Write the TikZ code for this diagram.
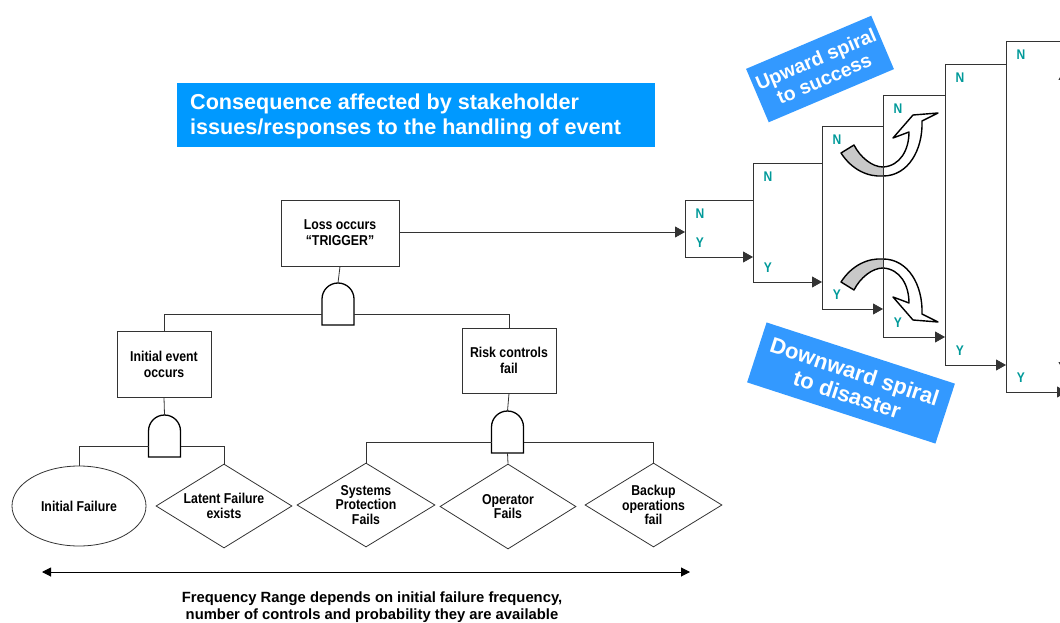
\documentclass[tikz,border=0pt]{standalone}
\usepackage{fontspec}
\setmainfont{Liberation Sans}
\newfontfamily\condfont[FakeStretch=0.86]{Liberation Sans}
\usetikzlibrary{arrows.meta,shapes.geometric}
\definecolor{headblue}{RGB}{0,153,255}
\definecolor{spiralblue}{RGB}{51,153,255}
\definecolor{branchteal}{RGB}{0,153,153}
\definecolor{backgray}{RGB}{200,200,200}

\tikzset{
  wire/.style={draw=black!80, line width=0.8pt},
  tip/.style={-{Triangle[length=10pt,width=11pt]}},
  eventbox/.style={draw=black!80, line width=0.8pt, fill=white, inner sep=0pt,
    minimum height=66pt, align=center,
    font=\condfont\bfseries\fontsize{14.3}{16}\selectfont},
  basicevent/.style={draw=black!80, line width=0.8pt, inner sep=0pt},
  shapetext/.style={align=center, inner sep=0pt,
    font=\condfont\bfseries\fontsize{14.3}{14.5}\selectfont},
  branch/.style={text=branchteal, inner sep=0pt,
    font=\condfont\bfseries\fontsize{14}{14}\selectfont},
  spiralline/.style={black, line width=1.4pt, line join=round},
  andgate/.pic={
    \draw[black, line width=1.3pt, fill=white]
      (-16,21) -- (-16,-5) arc[start angle=180, end angle=360, radius=16]
      -- (16,21) -- cycle;
    \coordinate (-top) at (0,-21);
    \coordinate (-bot) at (0,21);
    \coordinate (-left) at (-16,10);
    \coordinate (-right) at (16,10);
  },
  % curved arrow turning upwards
  spiralup/.pic={
    \fill[backgray] (841,153) .. controls (852,170) and (868,177) .. (883,176)
      -- (883,167) .. controls (872,167) and (860,157) .. (854,145) -- cycle;
    \fill[white] (883,167) .. controls (900,166) and (909,150) .. (909,132)
      -- (893,138) -- (913,115) -- (938,113) -- (922,121)
      .. controls (923,150) and (908,176) .. (883,176) -- cycle;
    \draw[spiralline]
      (841,153) .. controls (852,170) and (868,177) .. (883,176)
      .. controls (908,176) and (923,150) .. (922,121)
      -- (938,113) -- (913,115) -- (893,138) -- (909,132)
      .. controls (909,150) and (900,166) .. (883,167)
      .. controls (872,167) and (860,157) .. (854,145) -- cycle;
  },
  % curved arrow turning downwards
  spiraldown/.pic={
    \fill[backgray] (841,282) .. controls (852,265) and (868,258) .. (883,259)
      -- (883,268) .. controls (872,268) and (860,278) .. (854,290) -- cycle;
    \fill[white] (883,268) .. controls (900,269) and (909,285) .. (909,303)
      -- (893,297) -- (913,320) -- (938,322) -- (922,314)
      .. controls (923,285) and (908,259) .. (883,259) -- cycle;
    \draw[spiralline]
      (841,282) .. controls (852,265) and (868,258) .. (883,259)
      .. controls (908,259) and (923,285) .. (922,314)
      -- (938,322) -- (913,320) -- (893,297) -- (909,303)
      .. controls (909,285) and (900,269) .. (883,268)
      .. controls (872,268) and (860,278) .. (854,290) -- cycle;
  }
}

\begin{document}
\begin{tikzpicture}[x=1pt, y=-1pt]
\useasboundingbox (0,0) rectangle (1060,623);
\clip (0,0) rectangle (1060,623);

% heading
\node[fill=headblue, anchor=north west, inner sep=0pt,
  minimum width=478pt, minimum height=64pt] (headbox) at (177,83) {};
\node[anchor=base west, inner sep=0pt, text=white,
  font=\bfseries\fontsize{21.6}{25}\selectfont] (headone) at (190,110)
  {Consequence affected by stakeholder};
\node[anchor=base west, inner sep=0pt, text=white,
  font=\bfseries\fontsize{21.6}{25}\selectfont] (headtwo) at (190,135)
  {issues/responses to the handling of event};

% fault tree
\node[eventbox, minimum width=118pt] (trigger) at (340,233) {Loss occurs\\“TRIGGER”};
\node[eventbox, minimum width=94pt] (initev) at (164,364) {Initial event\\occurs};
\node[eventbox, minimum width=94pt, minimum height=65pt] (riskctl) at (509,360.5) {Risk controls\\fail};

\pic (gtop) at (338,304) {andgate};
\pic (gleft) at (164.5,436) {andgate};
\pic (gright) at (507.5,432) {andgate};

\node[basicevent, ellipse, minimum width=134pt, minimum height=80pt,
  font=\condfont\bfseries\fontsize{14.3}{15}\selectfont] (initfail) at (79,506) {Initial Failure};
\node[basicevent, diamond, minimum width=136pt, minimum height=84pt,
  label={[shapetext, name=latenttext]center:Latent Failure\\exists}] (latent) at (224,506) {};
\node[basicevent, diamond, minimum width=138pt, minimum height=84pt,
  label={[shapetext, name=systext]center:Systems\\Protection\\Fails}] (sysprot) at (366,505) {};
\node[basicevent, diamond, minimum width=136pt, minimum height=85pt,
  label={[shapetext, name=optext]center:Operator\\Fails}] (operator) at (508,506.5) {};
\node[basicevent, diamond, minimum width=137pt, minimum height=84pt,
  label={[shapetext, name=backtext]center:Backup\\operations\\fail}] (backup) at (653.5,505) {};

\draw[wire] (trigger.south) -- (gtop-top);
\draw[wire] (gtop-left) -| (initev.north);
\draw[wire] (gtop-right) -| (riskctl.north);
\draw[wire] (initev.south) -- (gleft-top);
\draw[wire] (gleft-left) -| (initfail.north);
\draw[wire] (gleft-right) -| (latent.north);
\draw[wire] (riskctl.south) -- (gright-top);
\draw[wire] (gright-left) -| (sysprot.north);
\draw[wire] (gright-right) -| (backup.north);
\draw[wire] (gright-bot) -- (operator.north);

% frequency range
\coordinate (freqleft) at (42,572);
\coordinate (freqright) at (690,572);
\draw[black, line width=1pt, {Triangle[length=9pt,width=9pt]}-{Triangle[length=9pt,width=9pt]}]
  (freqleft) -- (freqright);
\node[align=center, inner sep=0pt, font=\bfseries\fontsize{14.8}{17}\selectfont] (freqtext) at (372,607)
  {Frequency Range depends on initial failure frequency,\\number of controls and probability they are available};

% event tree stages
\foreach \i/\x/\t/\b in {1/685/200/257, 2/753/163/282, 3/822/126/309,
                        4/883/95/337, 5/945/64/365, 6/1006/41/392} {
  \coordinate (t\i) at (\x,\t);
  \coordinate (b\i) at (\x,\b);
}
\coordinate (t7) at (1070,41);
\coordinate (b7) at (1067,392);
\coordinate (entry) at (685,232);

% spirals between the stages
\pic (upspiral) at (0,0) {spiralup};
\pic (downspiral) at (0,0) {spiraldown};

\draw[wire, tip] (trigger.east |- entry) -- (entry);
\foreach \i/\j in {1/2, 2/3, 3/4, 4/5, 5/6, 6/7} {
  \draw[wire] (t\i) -- (b\i);
  \draw[wire] (t\i) -- (t\i -| t\j);
  \draw[wire, tip] (b\i) -- (b\i -| b\j);
  \node[branch] (n\i) at ([shift={(15,14)}]t\i) {N};
  \node[branch] (y\i) at ([shift={(15,-14)}]b\i) {Y};
}
\coordinate (outtop) at (1064,70);
\coordinate (outbot) at (1064,372);
\draw[wire, {Triangle[length=10pt,width=11pt]}-{Triangle[length=10pt,width=11pt]}] (outtop) -- (outbot);

% spiral captions
\node[fill=spiralblue, rotate=23, minimum width=136pt, minimum height=58pt, inner sep=0pt,
  text=white, align=center, font=\bfseries\fontsize{19.5}{21}\selectfont] (upcap) at (820,69)
  {Upward spiral\\to success};
\node[fill=spiralblue, rotate=-18, minimum width=198pt, minimum height=63pt, inner sep=0pt,
  text=white, align=center, font=\bfseries\fontsize{22}{24}\selectfont] (downcap) at (851,383)
  {Downward spiral\\to disaster};
\end{tikzpicture}
\end{document}
